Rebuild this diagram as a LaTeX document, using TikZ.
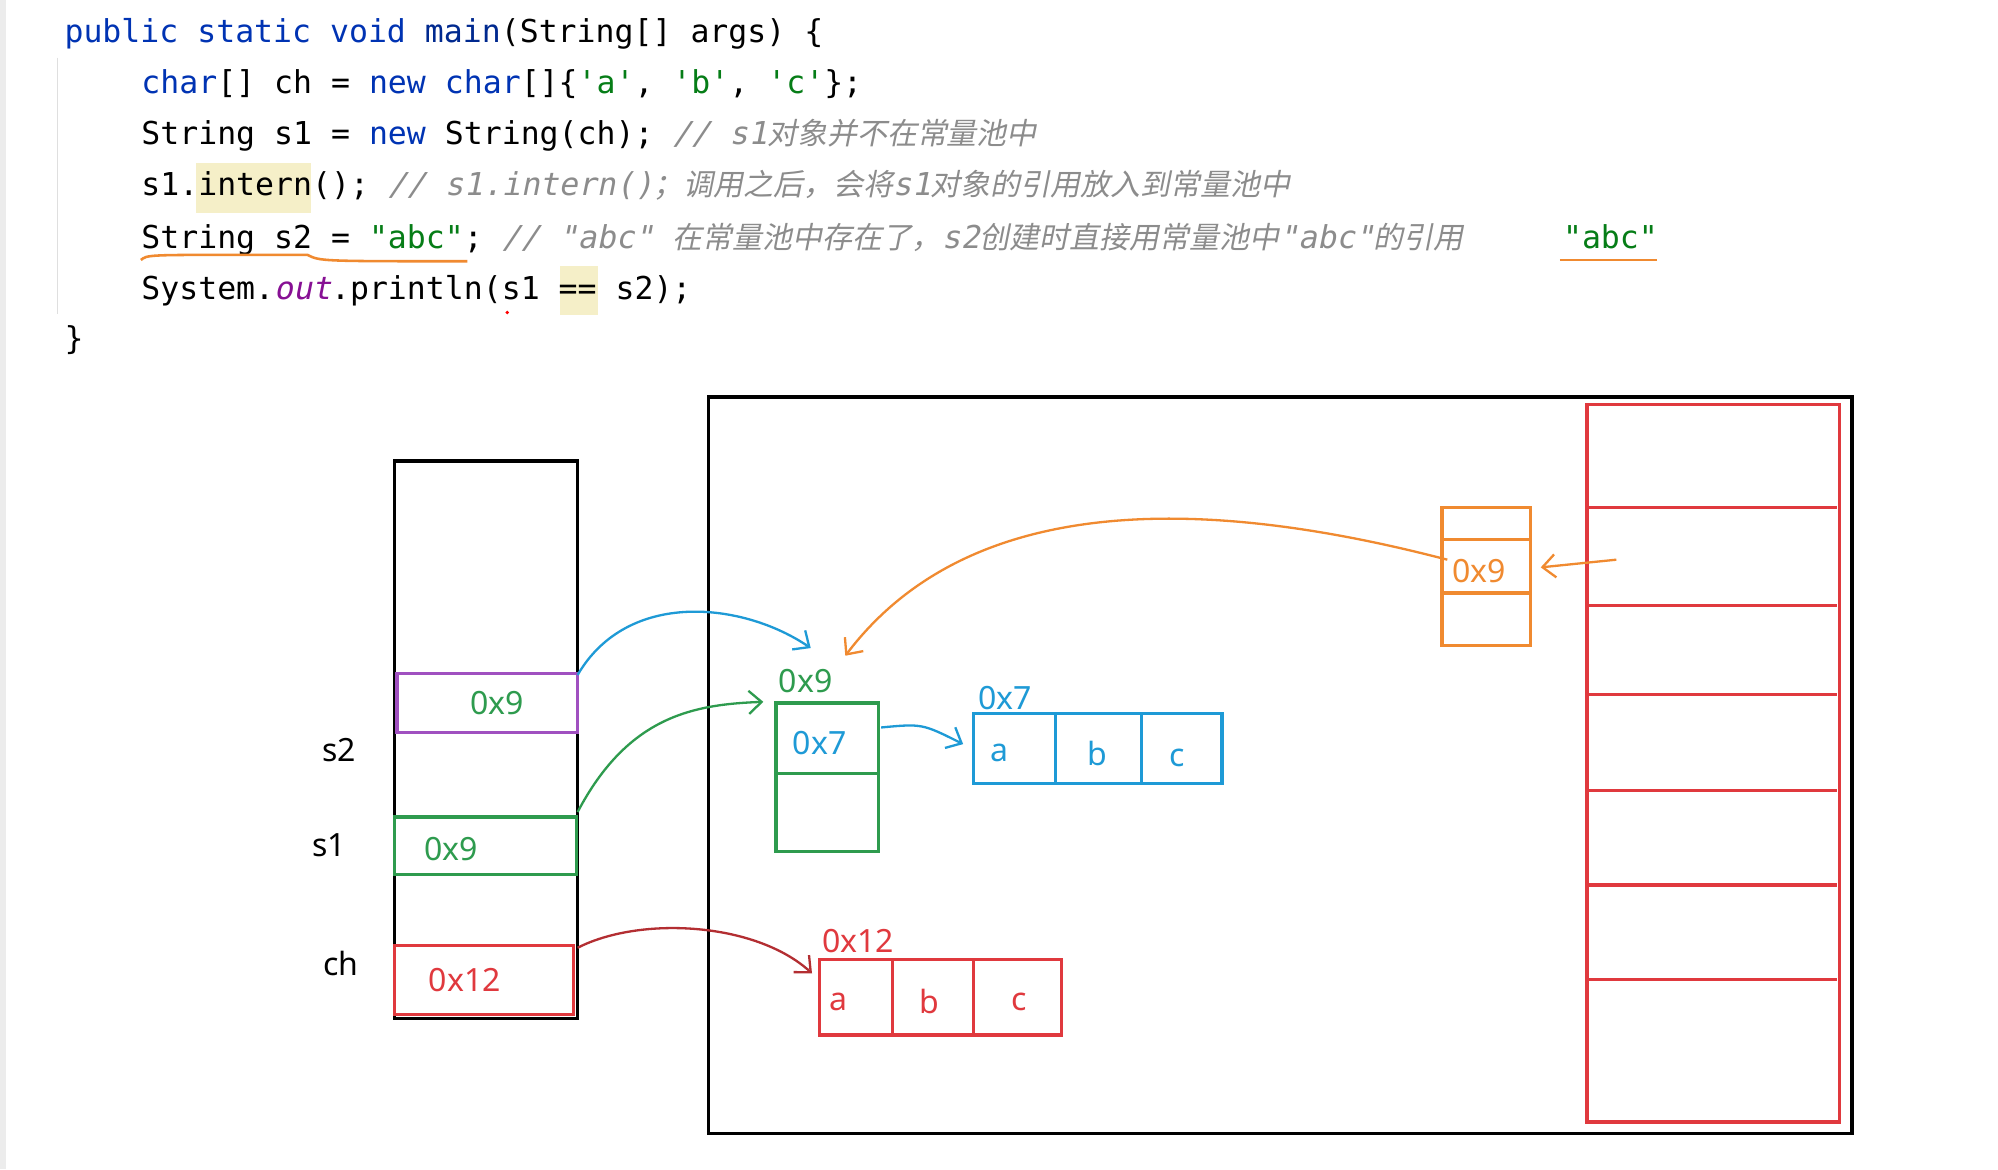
\documentclass[tikz,border=0pt]{standalone}
\usepackage{fontspec}
\setmainfont{Noto Sans}
\newfontfamily\code{DejaVu Sans Mono}
\newfontfamily\cmt{DejaVu Sans Mono}[FakeSlant=0.2]
\newfontfamily\cjk{Noto Sans CJK SC}[FakeSlant=0.2,Scale=0.95]
\usetikzlibrary{arrows.meta}
\definecolor{kw}{HTML}{0033B3}
\definecolor{st}{HTML}{067D17}
\definecolor{cm}{HTML}{8C8C8C}
\definecolor{pu}{HTML}{871094}
\definecolor{hl}{HTML}{F5EFC8}
\definecolor{gr}{HTML}{2E9B4E}
\definecolor{bl}{HTML}{1E9AD6}
\definecolor{rd}{HTML}{E0393E}
\definecolor{og}{HTML}{F08A30}
\definecolor{pp}{HTML}{A050C0}
\newcommand{\cj}[1]{{\cjk #1}}
\begin{document}
\begin{tikzpicture}[x=0.5pt,y=-0.5pt,
  cl/.style={anchor=base west,inner sep=0pt,font=\code\fontsize{12.3}{14}\selectfont},
  lb/.style={inner sep=0pt,font=\fontsize{12.5}{14}\selectfont},
  box/.style={line width=1.3pt},
  arr/.style={line width=0.9pt,-{Straight Barb[length=5pt,width=9pt]}}]
\useasboundingbox (0,0) rectangle (1560,913);
\fill[white] (0,0) rectangle (1560,913);
\fill[gray!15] (0,0) rectangle (5,913);
\draw[gray!25,line width=0.6pt] (45,45) -- (45,245);
% highlights
\fill[hl] (153,127) rectangle (243,166);
\fill[hl] (437,208) rectangle (467,246);
% code
\node[cl] (l1) at (50,33) {\textcolor{kw}{public static void} \textcolor{kw!80!black}{main}(String[] args) \{};
\node[cl] (l2) at (110,73) {\textcolor{kw}{char}[] ch = \textcolor{kw}{new} \textcolor{kw}{char}[]\{\textcolor{st}{'a'}, \textcolor{st}{'b'}, \textcolor{st}{'c'}\};};
\node[cl] (l3) at (110,113) {String s1 = \textcolor{kw}{new} String(ch); \textcolor{cm}{\cmt // s1\cj{对象并不在常量池中}}};
\node[cl] (l4) at (110,153) {s1.intern(); \textcolor{cm}{\cmt // s1.intern()\cj{；调用之后，会将}s1\cj{对象的引用放入到常量池中}}};
\node[cl] (l5) at (110,194) {String s2 = \textcolor{st}{"abc"}; \textcolor{cm}{\cmt // "abc" \cj{在常量池中存在了，}s2\cj{创建时直接用常量池中}"abc"\cj{的引用}}};
\node[cl] (l5b) at (1220,194) {\textcolor{st}{"abc"}};
\node[cl] (l6) at (110,234) {System.\textcolor{pu}{\cmt out}.println(s1 == s2);};
\node[cl] (l7) at (50,273) {\}};
\draw[og,line width=1pt] (110,203) .. controls (115,199) .. (190,199) -- (240,199) .. controls (250,204) .. (365,204);
\draw[og,line width=1pt] (1218,203) -- (1294,203);
\fill[red] (396,244) circle (1.5);
% stack
\draw[box] (308,360) rectangle (451,795);
\draw[pp,box] (310,526) rectangle (451,572);
\node[lb,text=gr] (s2v) at (388,549) {0x9};
\draw[gr,box] (308,638) rectangle (450,683);
\node[lb,text=gr] (s1v) at (352,663) {0x9};
\draw[rd,box] (308,738) rectangle (448,792);
\node[lb,text=rd] (chv) at (363,765) {0x12};
\node[lb] (s2l) at (265,586) {s2};
\node[lb] (s1l) at (257,660) {s1};
\node[lb] (chl) at (266,752) {ch};
% heap
\draw[box] (553,310) rectangle (1446,885);
% green object
\draw[gr,box] (606,549) rectangle (686,665);
\draw[gr,box] (606,604) -- (686,604);
\node[lb,text=gr] (g9) at (629,532) {0x9};
\node[lb,text=bl] (g7) at (640,580) {0x7};
% blue array
\draw[bl,box] (760,557) rectangle (954,612);
\draw[bl,box] (824,557) -- (824,612) (891,557) -- (891,612);
\node[lb,text=bl] (b7) at (785,545) {0x7};
\node[lb,text=bl] at (780,588) {a};
\node[lb,text=bl] at (857,588) {b};
\node[lb,text=bl] at (919,592) {c};
% red array
\draw[rd,box] (640,749) rectangle (829,808);
\draw[rd,box] (697,749) -- (697,808) (760,749) -- (760,808);
\node[lb,text=rd] (r12) at (670,735) {0x12};
\node[lb,text=rd] at (655,782) {a};
\node[lb,text=rd] at (726,782) {b};
\node[lb,text=rd] at (796,782) {c};
% orange
\draw[og,box] (1126,396) rectangle (1195,504);
\draw[og,box] (1126,421) -- (1195,421) (1126,463) -- (1195,463);
\node[lb,text=og] (o9) at (1155,446) {0x9};
% constant pool
\draw[rd,box] (1239,316) rectangle (1436,876);
\foreach \yy in {396,473,542,617,691,765} \draw[rd,box] (1239,\yy) -- (1434,\yy);
% arrows
\coordinate (pa) at (1262,437);
\coordinate (pb) at (1203,443);
\draw[og,arr] (pa) -- (pb);
\coordinate (oa) at (1130,437);
\coordinate (ob) at (660,512);
\draw[og,arr] (oa) .. controls (950,390) and (760,380) .. (ob);
\coordinate (ba) at (451,527);
\coordinate (bb) at (633,506);
\draw[bl,arr] (ba) .. controls (490,460) and (580,470) .. (bb);
\coordinate (ga) at (451,634);
\coordinate (gb) at (596,548);
\draw[gr,arr] (ga) .. controls (490,560) and (540,550) .. (gb);
\coordinate (xa) at (688,568);
\coordinate (xb) at (752,581);
\draw[bl,arr] (xa) .. controls (720,565) .. (xb);
\coordinate (ra) at (451,740);
\coordinate (rb) at (634,760);
\draw[rd!80!black,arr] (ra) .. controls (500,715) and (590,720) .. (rb);
\end{tikzpicture}
\end{document}
